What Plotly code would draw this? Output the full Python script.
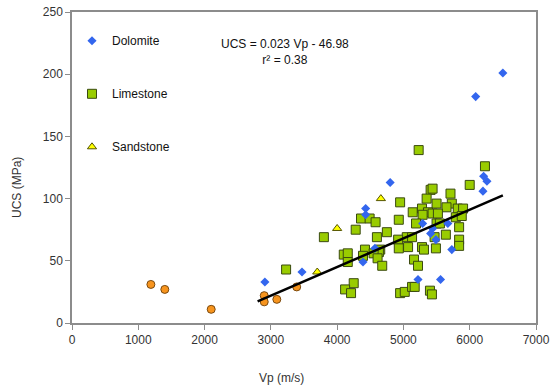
import plotly.graph_objects as go

dolomite_vp = [6500, 6090, 6210, 6260, 6200, 4800, 4430, 4430, 5290, 5670, 5440, 5410, 5490, 4570, 5730, 4390, 3470, 5220, 5560, 2910]
dolomite_ucs = [201, 182, 118, 114, 106, 113, 92, 87, 80, 80, 76, 72, 67, 60, 59, 49, 41, 35, 35, 33]

limestone_vp = [5230, 6230, 6000, 5710, 5410, 5440, 5350, 4950, 5500, 5730, 5650, 5280, 5140, 5370, 5440, 5520,
                5290, 5820, 5900, 5790, 5880, 4360, 4490, 4580, 4930, 5190, 5500, 5550, 5840, 4280, 4750, 3800,
                4600, 5050, 5130, 4920, 5470, 5640, 5840, 5840, 4420, 4650, 4630, 4550, 4100, 4160, 4390, 4930,
                5070, 5280, 5310, 5490, 4160, 4610, 4680, 5160, 5220, 3230, 4250, 4120, 4210, 4950, 5020, 5130,
                5170, 5400, 5430]
limestone_ucs = [139, 126, 111, 104, 107, 108, 100, 97, 96, 96, 93, 92, 89, 89, 88, 88,
                 87, 92, 92, 85, 86, 84, 84, 81, 83, 80, 80, 80, 77, 75, 73, 69,
                 69, 69, 69, 67, 69, 71, 67, 62, 59, 59, 57, 56, 55, 56, 54, 60,
                 61, 61, 59, 60, 49, 52, 46, 51, 46, 43, 32, 27, 24, 24, 25, 29,
                 29, 26, 23]

sandstone_vp = [4660, 4000, 3700]
sandstone_ucs = [100, 76, 41]

other_vp = [1190, 1400, 2100, 2900, 2900, 3090, 3390]
other_ucs = [31, 27, 11, 22, 17, 19, 29]

trend_slope = 0.023
trend_intercept = -46.98
trend_vp = [2800, 6500]
trend_ucs = [trend_slope * v + trend_intercept for v in trend_vp]

x_ticks = [0, 1000, 2000, 3000, 4000, 5000, 6000, 7000]
y_ticks = [0, 50, 100, 150, 200, 250]

FONT = "Liberation Sans, Arial, sans-serif"

fig = go.Figure()
fig.add_trace(go.Scatter(x=other_vp, y=other_ucs, mode="markers", showlegend=False,
                         marker=dict(symbol="circle", size=8, color="#F7941D",
                                     line=dict(color="#7a4a10", width=1))))
fig.add_trace(go.Scatter(x=limestone_vp, y=limestone_ucs, mode="markers", name="Limestone",
                         legendgroup="b", legendrank=2,
                         marker=dict(symbol="square", size=9, color="#99CC00",
                                     line=dict(color="#3a4a10", width=1))))
fig.add_trace(go.Scatter(x=dolomite_vp, y=dolomite_ucs, mode="markers", name="Dolomite",
                         legendgroup="a", legendrank=1,
                         marker=dict(symbol="diamond", size=7, color="#3366EE",
                                     line=dict(width=0))))
fig.add_trace(go.Scatter(x=sandstone_vp, y=sandstone_ucs, mode="markers", name="Sandstone",
                         legendgroup="c", legendrank=3,
                         marker=dict(symbol="triangle-up", size=8, color="#FFFF00",
                                     line=dict(color="#555500", width=1))))
fig.add_trace(go.Scatter(x=trend_vp, y=trend_ucs, mode="lines", showlegend=False,
                         line=dict(color="black", width=2.5)))

fig.update_layout(
    width=552, height=391,
    margin=dict(l=72, r=16, t=12, b=68, autoexpand=False),
    paper_bgcolor="white", plot_bgcolor="white",
    font=dict(family=FONT, size=12, color="#222"),
    legend=dict(x=0.0, y=0.954, xanchor="left", yanchor="top",
                traceorder="grouped", tracegroupgap=34,
                bgcolor="rgba(0,0,0,0)", font=dict(size=12, color="#111"),
                itemwidth=30),
    xaxis=dict(range=[0, 7000], tickvals=x_ticks, showgrid=False, zeroline=False,
               automargin=False,
               showline=True, linecolor="#8c8c8c", linewidth=1.5, mirror=True,
               ticks="outside", ticklen=5, tickcolor="#8c8c8c",
               tickfont=dict(size=12, color="#333")),
    yaxis=dict(range=[0, 250], tickvals=y_ticks, showgrid=False, zeroline=False,
               automargin=False,
               showline=True, linecolor="#8c8c8c", linewidth=1.5, mirror=True,
               ticks="outside", ticklen=5, tickcolor="#8c8c8c",
               tickfont=dict(size=12, color="#333")),
    annotations=[
        dict(text="UCS = 0.023 Vp - 46.98<br>r² = 0.38", xref="paper", yref="paper",
             x=(285 - 72) / 464, y=(323 - 52) / 311, xanchor="center", yanchor="middle",
             showarrow=False, align="center", font=dict(size=12, color="#111")),
        dict(text="Vp (m/s)", xref="paper", yref="paper",
             x=(281 - 72) / 464, y=(323 - 378) / 311, xanchor="center", yanchor="middle",
             showarrow=False, font=dict(size=12, color="#333")),
        dict(text="UCS (MPa)", xref="paper", yref="paper", textangle=-90,
             x=(17 - 72) / 464, y=(323 - 188) / 311, xanchor="center", yanchor="middle",
             showarrow=False, font=dict(size=12, color="#333")),
    ],
)

fig.write_html("out.html")
